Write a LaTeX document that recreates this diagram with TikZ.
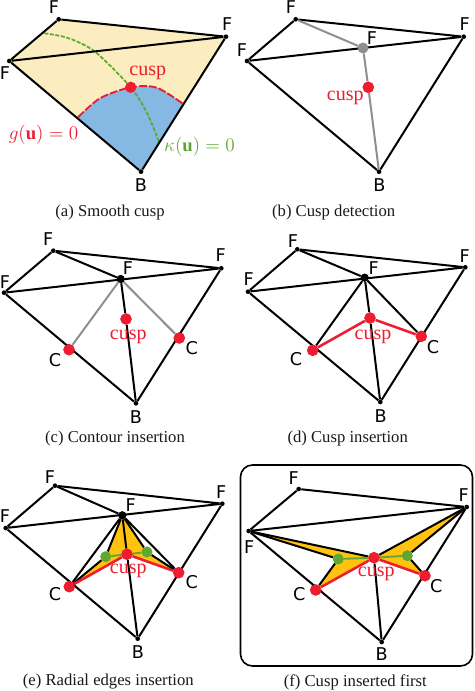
\documentclass[tikz,border=0pt]{standalone}
\usepackage{fontspec}
\setmainfont{Liberation Serif}
\newfontfamily\lblfont{DejaVu Sans}
\definecolor{cuspred}{HTML}{ED1C2E}
\definecolor{paleyellow}{HTML}{FBEDC0}
\definecolor{paleblue}{HTML}{85B8E2}
\definecolor{midgreen}{HTML}{5DA832}
\definecolor{wedge}{HTML}{FFC20E}
\definecolor{edgegrey}{HTML}{8F8F8F}
\tikzset{
  vtx/.style={circle,fill=black,inner sep=0pt,minimum size=3.5pt},
  hub/.style={circle,fill=black,inner sep=0pt,minimum size=6pt},
  greyhub/.style={circle,fill=edgegrey,inner sep=0pt,minimum size=8pt},
  reddot/.style={circle,fill=cuspred,inner sep=0pt,minimum size=8.5pt},
  greendot/.style={circle,fill=midgreen,inner sep=0pt,minimum size=8pt},
  lbl/.style={font=\lblfont\fontsize{13.2}{15}\selectfont,text=black,inner sep=0pt},
  cusplbl/.style={font=\fontsize{15}{16}\selectfont,text=cuspred,inner sep=0pt},
  captxt/.style={font=\fontsize{12.5}{14}\selectfont,text=black!90,inner sep=0pt},
  blackedge/.style={draw=black,line width=1.5pt},
  greyedge/.style={draw=edgegrey,line width=1.5pt},
  rededge/.style={draw=cuspred,line width=1.9pt},
  greenedge/.style={draw=midgreen,line width=1.4pt}
}
\begin{document}
\begin{tikzpicture}[x=0.75pt,y=-0.75pt]
\path[use as bounding box] (0,0) rectangle (474,691);

% ---------- (a)
\coordinate (aFt) at (58.7,19.3);
\coordinate (aFr) at (226,36.7);
\coordinate (aFl) at (9.3,61);
\coordinate (aB) at (141,171.7);
\coordinate (aGs) at (78,117.3);
\coordinate (aGe) at (183.3,104);
\coordinate (aKs) at (44.3,33.3);
\coordinate (aKe) at (159,141.7);
\coordinate (aC) at (130.7,87.3);
\fill[paleyellow] (aFt)--(aFr)--(aB)--(aFl)--cycle;
\fill[paleblue] plot[smooth] coordinates {(aGs) (100,98.3) (aC) (156.7,87.7) (aGe)} -- (aB) -- cycle;
\draw[midgreen,line width=1.3pt,dash pattern=on 3pt off 1.2pt] plot[smooth] coordinates {(aKs) (68,38) (95,51.7) (aC) (147,113) (aKe)};
\draw[cuspred,line width=1.4pt,dash pattern=on 6pt off 1.5pt] plot[smooth] coordinates {(aGs) (100,98.3) (aC) (156.7,87.7) (aGe)};
\node[vtx] (a1) at (aFt) {};
\node[vtx] (a2) at (aFr) {};
\node[vtx] (a3) at (aFl) {};
\node[vtx] (a4) at (aB) {};
\node[reddot] (a5) at (aC) {};
\draw[blackedge] (a3)--(a1)--(a2)--(a4)--(a3)--(a2);
\node[lbl] (aL1) at (54,7.5) {F};
\node[lbl] (aL2) at (227.3,24) {F};
\node[lbl] (aL3) at (5,72.7) {F};
\node[lbl] (aL4) at (141,185) {B};
\node[cusplbl] (aL5) at (147.7,72.7) {cusp};
\node[text=cuspred,inner sep=0pt,font=\fontsize{14}{15}\selectfont] (aL6) at (43.5,135) {$g(\mathbf{u})=0$};
\node[text=midgreen,inner sep=0pt,font=\fontsize{14}{15}\selectfont] (aL7) at (199.5,146.7) {$\kappa(\mathbf{u})=0$};
\node[captxt] (aCap) at (110,212) {(a) Smooth cusp};

% ---------- (b)
\node[vtx] (b1) at (295.7,19.3) {};
\node[vtx] (b2) at (463.7,36.7) {};
\node[vtx] (b3) at (247,61) {};
\node[vtx] (b4) at (379,171.7) {};
\node[greyhub] (b5) at (363,48) {};
\node[reddot] (b6) at (368.3,87.3) {};
\draw[blackedge] (b3)--(b1)--(b2)--(b4)--(b3)--(b2);
\draw[greyedge] (b1)--(b5)--(b6)--(b4);
\node[greyhub] at (b5) {};
\node[reddot] at (b6) {};
\node[lbl] (bL1) at (291,7.5) {F};
\node[lbl] (bL2) at (464.7,24) {F};
\node[lbl] (bL3) at (242,50) {F};
\node[lbl] (bL4) at (372,38) {F};
\node[lbl] (bL5) at (379.3,185) {B};
\node[cusplbl] (bL6) at (345.3,98.3) {cusp};
\node[captxt] (bCap) at (333.7,212) {(b) Cusp detection};

% ---------- (c)
\node[vtx] (c1) at (53.3,250.7) {};
\node[vtx] (c2) at (221.3,268.3) {};
\node[vtx] (c3) at (4,292.7) {};
\node[vtx] (c4) at (136,403.3) {};
\node[hub] (c5) at (120.7,279) {};
\node[reddot] (c6) at (126,319) {};
\node[reddot] (c7) at (69,349.7) {};
\node[reddot] (c8) at (179.3,338) {};
\draw[blackedge] (c3)--(c1)--(c2)--(c4)--(c3)--(c2);
\draw[blackedge] (c1)--(c5)--(c6)--(c4);
\draw[greyedge] (c7)--(c5)--(c8);
\node[hub] at (c5) {};
\node[reddot] at (c6) {};
\node[reddot] at (c7) {};
\node[reddot] at (c8) {};
\node[lbl] (cL1) at (48.3,239) {F};
\node[lbl] (cL2) at (220.7,255) {F};
\node[lbl] (cL3) at (5,281.7) {F};
\node[lbl] (cL4) at (128,268.3) {F};
\node[lbl] (cL5) at (136,416.7) {B};
\node[lbl] (cL6) at (55,360) {C};
\node[lbl] (cL7) at (191.7,347.7) {C};
\node[cusplbl] (cL8) at (128.3,336.7) {cusp};
\node[captxt] (cCap) at (115,438.3) {(c) Contour insertion};

% ---------- (d)
\node[vtx] (d1) at (297.3,249.3) {};
\node[vtx] (d2) at (465.3,267.3) {};
\node[vtx] (d3) at (248,291.7) {};
\node[vtx] (d4) at (380.3,402) {};
\node[hub] (d5) at (364.7,277.7) {};
\node[reddot] (d6) at (370,318) {};
\node[reddot] (d7) at (312.7,350.3) {};
\node[reddot] (d8) at (421.3,336.3) {};
\draw[blackedge] (d3)--(d1)--(d2)--(d4)--(d3)--(d2);
\draw[blackedge] (d1)--(d5)--(d6)--(d4);
\draw[blackedge] (d7)--(d5)--(d8);
\draw[rededge] (d7)--(d6)--(d8);
\node[hub] at (d5) {};
\node[reddot] at (d6) {};
\node[reddot] at (d7) {};
\node[reddot] at (d8) {};
\node[lbl] (dL1) at (293,240.7) {F};
\node[lbl] (dL2) at (464.7,255.7) {F};
\node[lbl] (dL3) at (248.7,279) {F};
\node[lbl] (dL4) at (373.7,268.3) {F};
\node[lbl] (dL5) at (380.7,415.7) {B};
\node[lbl] (dL6) at (296,359) {C};
\node[lbl] (dL7) at (433,346.7) {C};
\node[cusplbl] (dL8) at (373,336.7) {cusp};
\node[captxt] (dCap) at (347.7,438.3) {(d) Cusp insertion};

% ---------- (e)
\coordinate (eH) at (122.3,515.3);
\coordinate (eU) at (127,554.3);
\coordinate (eCl) at (69.3,586.7);
\coordinate (eCr) at (178.7,572.7);
\coordinate (eGl) at (105.7,556.7);
\coordinate (eGr) at (147,552);
\fill[wedge] (eH)--(eGl)--(eCl)--(eU)--(eCr)--(eGr)--cycle;
\node[vtx] (e1) at (55,485.7) {};
\node[vtx] (e2) at (222.3,503.7) {};
\node[vtx] (e3) at (5.7,528) {};
\node[vtx] (e4) at (137.7,638.7) {};
\node[hub] (e5) at (eH) {};
\node[reddot] (e6) at (eU) {};
\node[reddot] (e7) at (eCl) {};
\node[reddot] (e8) at (eCr) {};
\node[greendot] (e9) at (eGl) {};
\node[greendot] (e10) at (eGr) {};
\draw[blackedge] (e3)--(e1)--(e2)--(e4)--(e3)--(e2);
\draw[blackedge] (e1)--(e5)--(e6)--(e4);
\draw[blackedge] (e7)--(e5)--(e8);
\draw[blackedge] (e5)--(e9)--(e7);
\draw[blackedge] (e5)--(e10)--(e8);
\draw[greenedge] (e9)--(e6)--(e10);
\draw[rededge] (e7)--(e6)--(e8);
\node[hub] at (e5) {};
\node[greendot] at (e9) {};
\node[greendot] at (e10) {};
\node[reddot] at (e6) {};
\node[reddot] at (e7) {};
\node[reddot] at (e8) {};
\node[lbl] (eL1) at (50,477.3) {F};
\node[lbl] (eL2) at (221.3,491.7) {F};
\node[lbl] (eL3) at (5,516) {F};
\node[lbl] (eL4) at (130.7,505) {F};
\node[lbl] (eL5) at (138,651.7) {B};
\node[lbl] (eL6) at (55,594) {C};
\node[lbl] (eL7) at (191.7,581.7) {C};
\node[cusplbl] (eL8) at (128.3,570.7) {cusp};
\node[captxt] (eCap) at (108.3,681.7) {(e) Radial edges insertion};

% ---------- (f)
\draw[black,line width=1.2pt,rounded corners=9pt] (240.5,465) rectangle (472.5,666);
\coordinate (fFl) at (248.7,531);
\coordinate (fFr) at (466.7,507);
\coordinate (fU) at (374,557.7);
\coordinate (fCl) at (315.7,590);
\coordinate (fCr) at (425,575.7);
\coordinate (fGl) at (338.3,559);
\coordinate (fGr) at (407.3,555.7);
\fill[wedge] (fFl)--(fU)--(fCl)--(fGl)--cycle;
\fill[wedge] (fFr)--(fU)--(fCr)--(fGr)--cycle;
\node[vtx] (f1) at (298.7,489) {};
\node[vtx] (f2) at (fFr) {};
\node[vtx] (f3) at (fFl) {};
\node[vtx] (f4) at (381.7,642) {};
\node[reddot] (f6) at (fU) {};
\node[reddot] (f7) at (fCl) {};
\node[reddot] (f8) at (fCr) {};
\node[greendot] (f9) at (fGl) {};
\node[greendot] (f10) at (fGr) {};
\draw[blackedge] (f3)--(f1)--(f2)--(f4)--(f3)--(f2);
\draw[blackedge] (f6)--(f4);
\draw[blackedge] (f3)--(f6)--(f2);
\draw[blackedge] (f3)--(f9)--(f7);
\draw[blackedge] (f2)--(f10)--(f8);
\draw[greenedge] (f9)--(f6)--(f10);
\draw[rededge] (f7)--(f6)--(f8);
\node[greendot] at (f9) {};
\node[greendot] at (f10) {};
\node[reddot] at (f6) {};
\node[reddot] at (f7) {};
\node[reddot] at (f8) {};
\node[lbl] (fL1) at (293.7,478.3) {F};
\node[lbl] (fL2) at (463.7,495) {F};
\node[lbl] (fL3) at (249.3,546.7) {F};
\node[lbl] (fL4) at (381.7,654) {B};
\node[lbl] (fL5) at (299.3,594.3) {C};
\node[lbl] (fL6) at (436.3,585.7) {C};
\node[cusplbl] (fL7) at (376.3,574.3) {cusp};
\node[captxt] (fCap) at (355.3,682.3) {(f) Cusp inserted first};
\end{tikzpicture}
\end{document}
